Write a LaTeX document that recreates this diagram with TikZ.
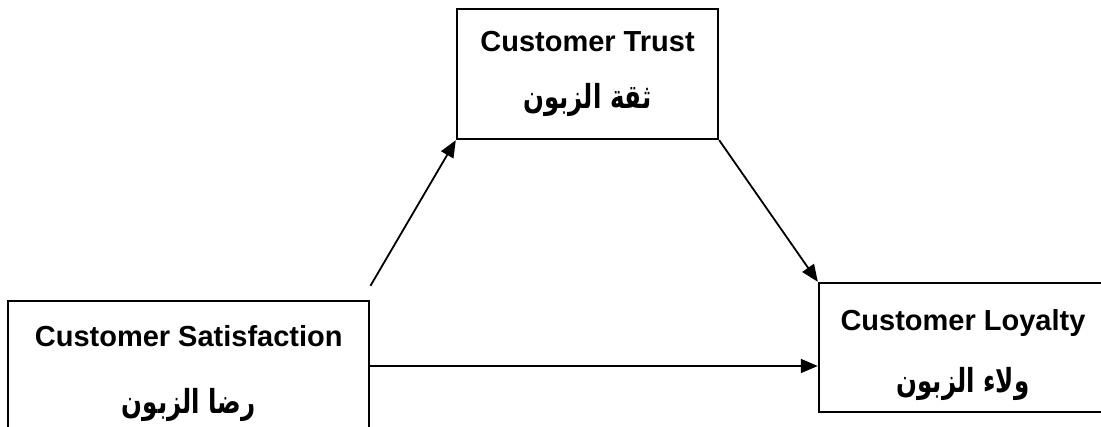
\documentclass[tikz,border=0pt]{standalone}
\usepackage{fontspec}
\usepackage{graphicx}
\setmainfont{Liberation Sans}
\newfontfamily\arabicfont[Script=Arabic]{DejaVu Sans}
\TeXXeTstate=1
\usepackage{tikz}
\usetikzlibrary{arrows.meta,calc}
\tikzset{
	box/.style={draw=black, line width=2.4pt, rectangle, inner sep=0pt},
	entext/.style={anchor=base, inner sep=0pt, font=\fontsize{29}{34}\selectfont\bfseries},
	artext/.style={anchor=center, inner sep=0pt},
	link/.style={line width=1.8pt, -{Triangle[length=17pt,width=14pt]}}
}
\def\ar#1{\scalebox{1}[1.35]{\arabicfont\fontsize{24.5}{30}\selectfont\bfseries\beginR #1\endR}}

\begin{document}
\begin{tikzpicture}[x=1pt,y=-1pt]
			%%%%% START %%%%%
			
			\useasboundingbox (0, 0) rectangle (1101, 427);
			\clip (0, 0) rectangle (1101, 427);
			
			% boxes
			\node[box, minimum width=361pt, minimum height=130pt] (sat) at (188.75, 366) {};
			\node[box, minimum width=261pt, minimum height=130pt] (trust) at (587.5, 74) {};
			\node[box, minimum width=288pt, minimum height=129pt] (loy) at (963, 347.5) {};
			
			% labels
			\node[entext] (sat-en) at ($(sat.north)+(0, 47)$) {Customer Satisfaction};
			\node[artext] (sat-ar) at ($(sat.north)+(0, 105)$) {\ar{رضا الزبون}};
			\node[entext] (trust-en) at ($(trust.north)+(0, 44)$) {Customer Trust};
			\node[artext] (trust-ar) at ($(trust.north)+(0, 92)$) {\ar{ثقة الزبون}};
			\node[entext] (loy-en) at ($(loy.north)+(0, 49)$) {Customer Loyalty};
			\node[artext] (loy-ar) at ($(loy.north)+(0, 102)$) {\ar{ولاء الزبون}};
			
			% arrows
			\coordinate (satup) at ([yshift=14pt]sat.north east);
			\draw[link] (satup) -- (trust.south west);
			\draw[link] (trust.south east) -- (loy.north west);
			\draw[link] (sat.east) -- (loy.west |- sat.east);
			
			%%%%% END %%%%%
\end{tikzpicture}
\end{document}
